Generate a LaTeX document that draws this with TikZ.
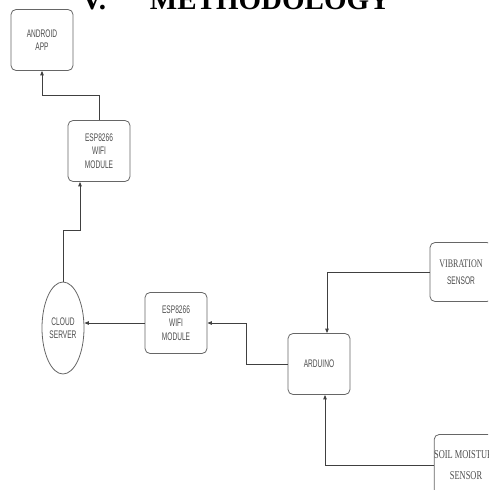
\documentclass[tikz,border=0pt]{standalone}
\usepackage{fontspec}
\setmainfont{Liberation Serif}
\newfontfamily\boxfont{Liberation Sans}[FakeStretch=0.6]
\newfontfamily\serifbox{Liberation Serif}[FakeStretch=0.7]
\usetikzlibrary{arrows.meta}
\usetikzlibrary{shapes.geometric}

\begin{document}
\begin{tikzpicture}[x=1pt,y=-1pt,
	block/.style={draw=black!60,line width=0.8pt,rounded corners=5pt,minimum width=62pt,minimum height=61pt,inner sep=0pt,align=center,text=black!70,font=\boxfont\fontsize{11}{13.5}\selectfont},
	cloudy/.style={draw=black!60,line width=0.8pt,ellipse,minimum width=42pt,minimum height=92pt,inner sep=0pt,align=center,text=black!70,font=\boxfont\fontsize{11}{13.5}\selectfont},
	flow/.style={draw=black!75,line width=0.9pt,-{Triangle[length=4.5pt,width=3.5pt]}}]
	\useasboundingbox (0,0) rectangle (488,490);
	\clip (0,0) rectangle (488,490);

	\node[anchor=base west,font=\bfseries\fontsize{29}{30}\selectfont] (title) at (78,9) {V.\hspace{44pt}METHODOLOGY};

	\node[block] (app) at (42,40) {ANDROID\\APP};
	\node[block] (wifitop) at (99,151) {ESP8266\\WIFI\\MODULE};
	\node[cloudy] (cloud) at (63,328) {CLOUD\\SERVER};
	\node[block] (wifibot) at (176,323) {ESP8266\\WIFI\\MODULE};
	\node[block] (ard) at (319,364) {ARDUINO};
	\node[block,minimum height=59pt] (vib) at (461,272) {{\serifbox\fontsize{11.5}{13}\selectfont VIBRATION}\\[3pt]SENSOR};
	\node[block,font=\serifbox\fontsize{12}{21}\selectfont] (soil) at (466,465) {SOIL MOISTURE\\SENSOR};

	\draw[flow] (wifitop.north) -- ++(0,-25) -| (app.south);
	\draw[flow] (cloud.north) -- ++(0,-51) -| ([xshift=-19pt]wifitop.south);
	\draw[flow] (wifibot.west) -- (cloud.east |- wifibot.west);
	\draw[flow] (ard.west) -- ++(-41,0) |- (wifibot.east);
	\draw[flow] (vib.west) -| ([xshift=8pt]ard.north);
	\draw[flow] (soil.west) -| ([xshift=6pt]ard.south);

	\end{tikzpicture}
\end{document}
